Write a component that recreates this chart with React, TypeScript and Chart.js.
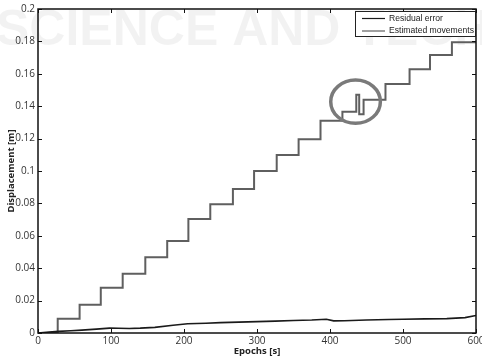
import React, { useEffect, useRef } from "react";
import { Chart, registerables } from "chart.js";

Chart.register(...registerables);

// ---- Data ----
const epochsStep = [0, 27, 57, 86, 116, 147, 177, 206, 236, 267, 296, 327, 357, 387, 417, 436, 440, 446, 476, 509, 537, 567, 600];
const displacementStep = [0, 0.0088, 0.0175, 0.028, 0.0366, 0.0467, 0.0568, 0.0704, 0.0794, 0.0889, 0.1, 0.1099, 0.1196, 0.131, 0.1366, 0.147, 0.135, 0.144, 0.1537, 0.1628, 0.1716, 0.1794, 0.1794];

const epochsResidual = [0, 15, 28, 45, 60, 80, 98, 110, 125, 140, 160, 185, 205, 230, 250, 275, 300, 325, 350, 375, 395, 405, 420, 450, 480, 500, 530, 560, 585, 600];
const residualError = [0, 0.0006, 0.001, 0.0014, 0.0018, 0.0024, 0.003, 0.0029, 0.0028, 0.003, 0.0035, 0.0048, 0.0057, 0.006, 0.0064, 0.0067, 0.007, 0.0073, 0.0077, 0.008, 0.0085, 0.0075, 0.0076, 0.008, 0.0083, 0.0085, 0.0087, 0.0089, 0.0095, 0.0108];

const xTickValues = [0, 100, 200, 300, 400, 500, 600];
const xTickLabels = ["0", "100", "200", "300", "400", "500", "600"];
const yTickValues = [0, 0.02, 0.04, 0.06, 0.08, 0.1, 0.12, 0.14, 0.16, 0.18, 0.2];
const yTickLabels = ["0", "0.02", "0.04", "0.06", "0.08", "0.1", "0.12", "0.14", "0.16", "0.18", "0.2"];

const seriesLabels = ["Residual error", "Estimated movements"];
const xTitle = "Epochs [s]";
const yTitle = "Displacement [m]";
const watermarkText = "SCIENCE AND TECHNOLOGY";

// highlighted region (data units): centre and half-extents
const highlightCenter = [435, 0.1428];
const highlightRadius = [34, 0.0134];

const COLORS = { residual: "#1a1a1a", estimated: "#5f5f5f" };
const TICK_FONT = "10px 'Open Sans', sans-serif";

const decorPlugin = {
  id: "decor",
  beforeDatasetsDraw(chart: any) {
    const ctx = chart.ctx as CanvasRenderingContext2D;
    ctx.save();
    ctx.fillStyle = "rgba(0,0,0,0.05)";
    ctx.font = "bold 50px 'Liberation Sans', sans-serif";
    ctx.textBaseline = "middle";
    ctx.textAlign = "left";
    ctx.fillText(watermarkText, -4, 31);
    ctx.restore();
  },
  afterDatasetsDraw(chart: any) {
    const ctx = chart.ctx as CanvasRenderingContext2D;
    const { left, right, top, bottom } = chart.chartArea;
    const xs = chart.scales.x;
    const ys = chart.scales.y;
    ctx.save();

    // highlight ellipse
    const cx = xs.getPixelForValue(highlightCenter[0]);
    const cy = ys.getPixelForValue(highlightCenter[1]);
    const rx = Math.abs(xs.getPixelForValue(highlightCenter[0] + highlightRadius[0]) - cx);
    const ry = Math.abs(ys.getPixelForValue(highlightCenter[1] + highlightRadius[1]) - cy);
    ctx.beginPath();
    ctx.ellipse(cx, cy, rx, ry, 0, 0, Math.PI * 2);
    ctx.strokeStyle = "#7a7a7a";
    ctx.lineWidth = 3.5;
    ctx.stroke();

    // frame
    ctx.strokeStyle = "#111";
    ctx.lineWidth = 1.5;
    ctx.strokeRect(left, top, right - left, bottom - top);

    // inward ticks
    ctx.lineWidth = 1;
    const tl = 4;
    ctx.beginPath();
    xTickValues.forEach((v) => {
      const px = Math.round(xs.getPixelForValue(v)) + 0.5;
      ctx.moveTo(px, bottom);
      ctx.lineTo(px, bottom - tl);
      ctx.moveTo(px, top);
      ctx.lineTo(px, top + tl);
    });
    yTickValues.forEach((v) => {
      const py = Math.round(ys.getPixelForValue(v)) + 0.5;
      ctx.moveTo(left, py);
      ctx.lineTo(left + tl, py);
      ctx.moveTo(right, py);
      ctx.lineTo(right - tl, py);
    });
    ctx.stroke();

    // tick labels
    ctx.fillStyle = "#333";
    ctx.font = TICK_FONT;
    ctx.textAlign = "center";
    ctx.textBaseline = "top";
    xTickValues.forEach((v, i) => {
      ctx.fillText(xTickLabels[i], xs.getPixelForValue(v), bottom + 3);
    });
    ctx.textAlign = "right";
    ctx.textBaseline = "middle";
    yTickValues.forEach((v, i) => {
      ctx.fillText(yTickLabels[i], left - 3, ys.getPixelForValue(v));
    });

    // axis titles
    ctx.fillStyle = "#222";
    ctx.font = "bold 9.5px 'Open Sans', sans-serif";
    ctx.textAlign = "center";
    ctx.textBaseline = "middle";
    ctx.fillText(xTitle, (left + right) / 2, bottom + 18);
    ctx.save();
    ctx.translate(11, (top + bottom) / 2);
    ctx.rotate(-Math.PI / 2);
    ctx.fillText(yTitle, 0, 0);
    ctx.restore();

    // legend
    const lw = 121;
    const lh = 26;
    const lx = right - lw;
    const ly = top + 2;
    ctx.fillStyle = "#fff";
    ctx.fillRect(lx, ly, lw, lh);
    ctx.strokeStyle = "#222";
    ctx.lineWidth = 1;
    ctx.strokeRect(lx + 0.5, ly + 0.5, lw - 1, lh - 1);
    const colors = [COLORS.residual, COLORS.estimated];
    ctx.font = "8.6px 'Liberation Sans', sans-serif";
    ctx.textAlign = "left";
    ctx.textBaseline = "middle";
    seriesLabels.forEach((lab, i) => {
      const yy = ly + 7.5 + i * 12.5;
      ctx.strokeStyle = colors[i];
      ctx.lineWidth = 1.2;
      ctx.beginPath();
      ctx.moveTo(lx + 7, yy);
      ctx.lineTo(lx + 30, yy);
      ctx.stroke();
      ctx.fillStyle = "#222";
      ctx.fillText(lab, lx + 34, yy);
    });

    ctx.restore();
  },
};

export default function App() {
  const ref = useRef<HTMLCanvasElement | null>(null);
  useEffect(() => {
    if (!ref.current) return;
    const chart = new Chart(ref.current, {
      type: "line",
      data: {
        datasets: [
          {
            label: seriesLabels[0],
            data: epochsResidual.map((x, i) => ({ x, y: residualError[i] })),
            borderColor: COLORS.residual,
            borderWidth: 1.6,
            pointRadius: 0,
            tension: 0,
          },
          {
            label: seriesLabels[1],
            data: epochsStep.map((x, i) => ({ x, y: displacementStep[i] })),
            borderColor: COLORS.estimated,
            borderWidth: 2,
            pointRadius: 0,
            stepped: "before",
          },
        ],
      },
      options: {
        animation: false,
        responsive: false,
        devicePixelRatio: 1,
        layout: { padding: { top: 9, right: 6, left: 0, bottom: 0 } },
        plugins: { legend: { display: false }, tooltip: { enabled: false } },
        scales: {
          x: {
            type: "linear",
            min: 0,
            max: 600,
            ticks: { display: false, stepSize: 100 },
            grid: { display: false },
            border: { display: false },
            afterFit: (s: any) => {
              s.height = 23;
            },
          },
          y: {
            type: "linear",
            min: 0,
            max: 0.2,
            ticks: { display: false, stepSize: 0.02 },
            grid: { display: false },
            border: { display: false },
            afterFit: (s: any) => {
              s.width = 38;
            },
          },
        },
      },
      plugins: [decorPlugin],
    } as any);
    return () => chart.destroy();
  }, []);
  return (
    <div style={{ position: "absolute", left: 0, top: 0, width: 482, height: 356, background: "#fff" }}>
      <canvas ref={ref} width={482} height={356} style={{ width: 482, height: 356, display: "block" }} />
    </div>
  );
}
